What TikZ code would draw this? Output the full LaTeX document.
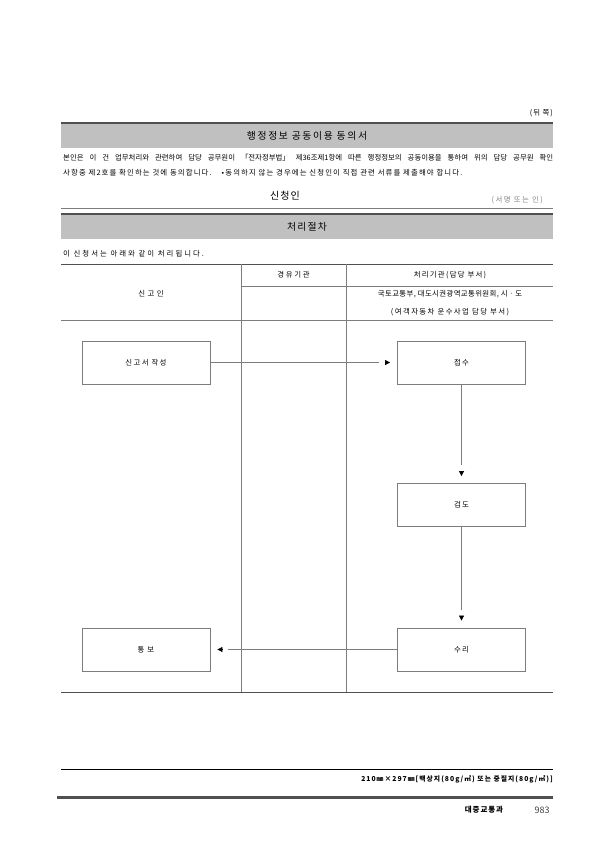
\documentclass[tikz,border=0pt]{standalone}
\usepackage{fontspec}
\setmainfont{Noto Sans CJK KR}
\usetikzlibrary{arrows.meta}
\definecolor{barfill}{RGB}{192,192,192}
\definecolor{bardark}{RGB}{80,80,80}
\definecolor{rulegray}{RGB}{125,125,125}
\tikzset{
  stepbox/.style={draw=rulegray, line width=0.8pt, minimum width=128pt, minimum height=43pt, font=\fontsize{7.4}{8}\selectfont\addfontfeatures{LetterSpace=18}},
  flowline/.style={draw=rulegray, line width=0.6pt, shorten >=18pt},
  tipend/.style={black, line width=0.6pt, -{Triangle[length=5pt,width=5pt]}},
  small/.style={font=\fontsize{7.4}{8}\selectfont, inner sep=0pt},
  bartext/.style={font=\fontsize{9.8}{11}\selectfont, inner sep=0pt},
}
\begin{document}
\begin{tikzpicture}[x=1pt,y=-1pt]
\useasboundingbox (0,0) rectangle (607,859);
%\draw[step=50,gray,very thin] (0,0) grid (607,859); %background grid
\node[small, anchor=east] (back) at (553,113) {\addfontfeatures{LetterSpace=12}(뒤 쪽)};
% consent bar
\fill[barfill] (61,123) rectangle (553,148);
\draw[bardark, line width=2pt] (61,123) -- (553,123);
\node[bartext] (consent) at (307,135.5) {\addfontfeatures{LetterSpace=17}행정정보 공동이용 동의서};
\node[small, anchor=west] (para1) at (63,158) {\makebox[490pt][s]{본인은 이 건 업무처리와 관련하여 담당 공무원이 「전자정부법」 제36조제1항에 따른 행정정보의 공동이용을 통하여 위의 담당 공무원 확인}};
\node[small, anchor=west] (para2) at (63,173) {\addfontfeatures{LetterSpace=15}사항중 제2호를 확인하는 것에 동의합니다.\hspace{10pt}•동의하지 않는 경우에는 신청인이 직접 관련 서류를 제출해야 합니다.};
\node[font=\fontsize{10}{11}\selectfont, inner sep=0pt] (applicant) at (285,196) {\addfontfeatures{LetterSpace=10}신청인};
\node[small, text=gray, anchor=east] (sign) at (543,200) {\addfontfeatures{LetterSpace=20}(서명 또는 인)};
\draw[rulegray, line width=0.8pt] (61,208) -- (553,208);
% procedure bar
\fill[barfill] (61,214) rectangle (553,239);
\draw[bardark, line width=2pt] (61,214) -- (553,214);
\node[bartext] (procedure) at (307,227) {\addfontfeatures{LetterSpace=13}처리절차};
\node[small, anchor=west] (intro) at (63,254) {\addfontfeatures{LetterSpace=27}이 신청서는 아래와 같이 처리됩니다.};
% table
\draw[bardark, line width=1pt] (61,264) -- (553,264);
\draw[rulegray, line width=0.7pt] (241,286) -- (553,286);
\draw[rulegray, line width=0.8pt] (61,320) -- (553,320);
\draw[rulegray, line width=0.7pt] (241,264) -- (241,692);
\draw[rulegray, line width=0.7pt] (346,264) -- (346,692);
\draw[bardark, line width=1pt] (61,692) -- (553,692);
\node[small] (via) at (293.5,275) {\addfontfeatures{LetterSpace=22}경유기관};
\node[small] (handler) at (450,275) {\addfontfeatures{LetterSpace=17}처리기관(담당 부서)};
\node[small] (reporter) at (151,294) {\addfontfeatures{LetterSpace=32}신고인};
\node[small] (agency1) at (450,294) {\addfontfeatures{LetterSpace=5}국토교통부, 대도시권광역교통위원회, 시ㆍ도};
\node[small] (agency2) at (450,312.5) {\addfontfeatures{LetterSpace=19}(여객자동차 운수사업 담당 부서)};
% steps
\node[stepbox] (jakseong) at (146,362.5) {신고서 작성};
\node[stepbox] (jeopsu) at (461.5,362.5) {접수};
\node[stepbox] (geomdo) at (461.5,505) {검도};
\node[stepbox] (suri) at (461.5,649.5) {수리};
\node[stepbox] (tongbo) at (146,649.5) {통 보};
\draw[flowline] (jakseong) -- (jeopsu);
\draw[tipend] ([xshift=-12pt]jeopsu.west) -- ([xshift=-7pt]jeopsu.west);
\draw[flowline] (jeopsu) -- (geomdo);
\draw[tipend] ([yshift=12pt]geomdo.north) -- ([yshift=7pt]geomdo.north);
\draw[flowline] (geomdo) -- (suri);
\draw[tipend] ([yshift=12pt]suri.north) -- ([yshift=7pt]suri.north);
\draw[flowline] (suri) -- (tongbo);
\draw[tipend] ([xshift=12pt]tongbo.east) -- ([xshift=7pt]tongbo.east);
% footer
\draw[black, line width=0.8pt] (61,769) -- (553,769);
\node[font=\fontsize{6.8}{7}\selectfont\bfseries, inner sep=0pt, anchor=east] (paper) at (553,779) {\addfontfeatures{LetterSpace=15}210㎜×297㎜[백상지(80g/㎡) 또는 중질지(80g/㎡)]};
\draw[bardark, line width=3pt] (57,797) -- (553,797);
\node[font=\fontsize{7.5}{8}\selectfont\bfseries, inner sep=0pt] (dept) at (484,810) {\addfontfeatures{LetterSpace=12}대중교통과};
\node[font=\fontsize{9}{10}\selectfont, text=darkgray, inner sep=0pt] (page) at (542,810) {983};
\end{tikzpicture}
\end{document}
